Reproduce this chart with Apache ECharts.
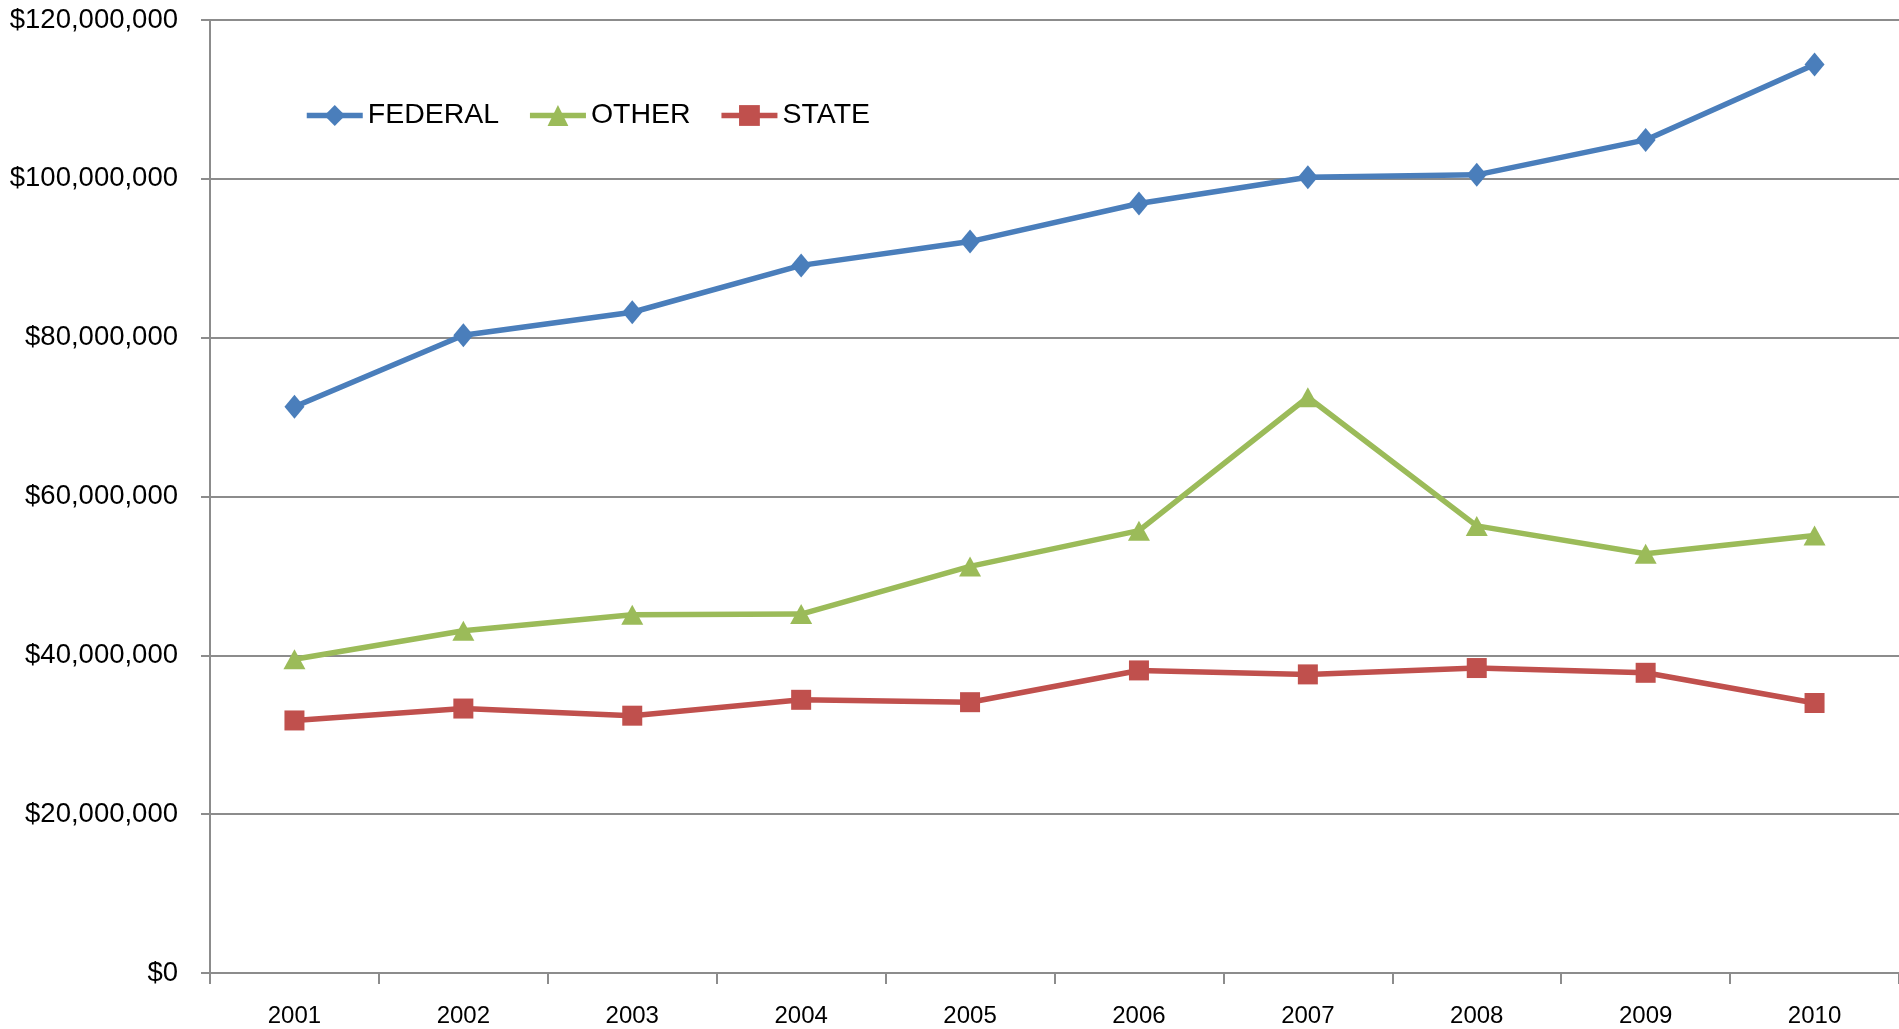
<!DOCTYPE html>
<html>
<head>
<meta charset="utf-8">
<script src="https://cdn.jsdelivr.net/npm/echarts@6/dist/echarts.min.js"></script>
<style>
html,body{margin:0;padding:0;background:#fff;}
#chart{width:1899px;height:1029px;}
</style>
</head>
<body>
<div id="chart"></div>
<script>
var years = ['2001','2002','2003','2004','2005','2006','2007','2008','2009','2010'];
var federal = [71300000, 80300000, 83200000, 89100000, 92100000, 96900000, 100200000, 100500000, 104900000, 114400000];
var other = [39500000, 43100000, 45100000, 45200000, 51200000, 55700000, 72500000, 56300000, 52800000, 55100000];
var state = [31800000, 33300000, 32400000, 34400000, 34100000, 38100000, 37600000, 38400000, 37800000, 34000000];

var color = ['#4a7ebb', '#9bbb59', '#c0504d'];
var gridGray = '#8c8c8c';

function money(v) {
    var s = String(Math.round(v));
    return '$' + s.replace(/\B(?=(\d{3})+(?!\d))/g, ',');
}

function lineSeries(name, data, symbol, size, c) {
    return {
        name: name,
        type: 'line',
        data: data,
        symbol: symbol,
        symbolSize: size,
        lineStyle: { width: 5.5, color: c },
        itemStyle: { color: c },
        emphasis: { disabled: true }
    };
}

var myChart = echarts.init(document.getElementById('chart'));
var option = {
    animation: false,
    color: color,
    grid: {
        left: 210,
        right: 0,
        top: 20,
        bottom: 56,
        containLabel: false
    },
    legend: {
        left: 299,
        top: 96,
        itemWidth: 56,
        itemHeight: 26,
        itemGap: 28,
        lineStyle: { width: 5.5 },
        textStyle: { fontFamily: 'Liberation Sans', fontSize: 28.5, color: '#000' },
        data: ['FEDERAL', 'OTHER', 'STATE']
    },
    xAxis: {
        type: 'category',
        data: years,
        boundaryGap: true,
        axisLine: { lineStyle: { color: gridGray, width: 2 } },
        axisTick: { show: true, length: 11, lineStyle: { color: gridGray, width: 2 } },
        axisLabel: { margin: 31, fontFamily: 'Liberation Sans', fontSize: 24, color: '#000' }
    },
    yAxis: {
        type: 'value',
        min: 0,
        max: 120000000,
        interval: 20000000,
        axisLine: { show: true, lineStyle: { color: gridGray, width: 2 } },
        axisTick: { show: true, length: 9, lineStyle: { color: gridGray, width: 2 } },
        splitLine: { show: true, lineStyle: { color: gridGray, width: 2 } },
        axisLabel: {
            margin: 32,
            fontFamily: 'Liberation Sans',
            fontSize: 27.5,
            color: '#000',
            formatter: money
        }
    },
    series: [
        lineSeries('FEDERAL', federal, 'diamond', [20, 24], color[0]),
        lineSeries('OTHER', other, 'triangle', [22, 20], color[1]),
        lineSeries('STATE', state, 'rect', [20, 20], color[2])
    ]
};
myChart.setOption(option, true);
</script>
</body>
</html>
